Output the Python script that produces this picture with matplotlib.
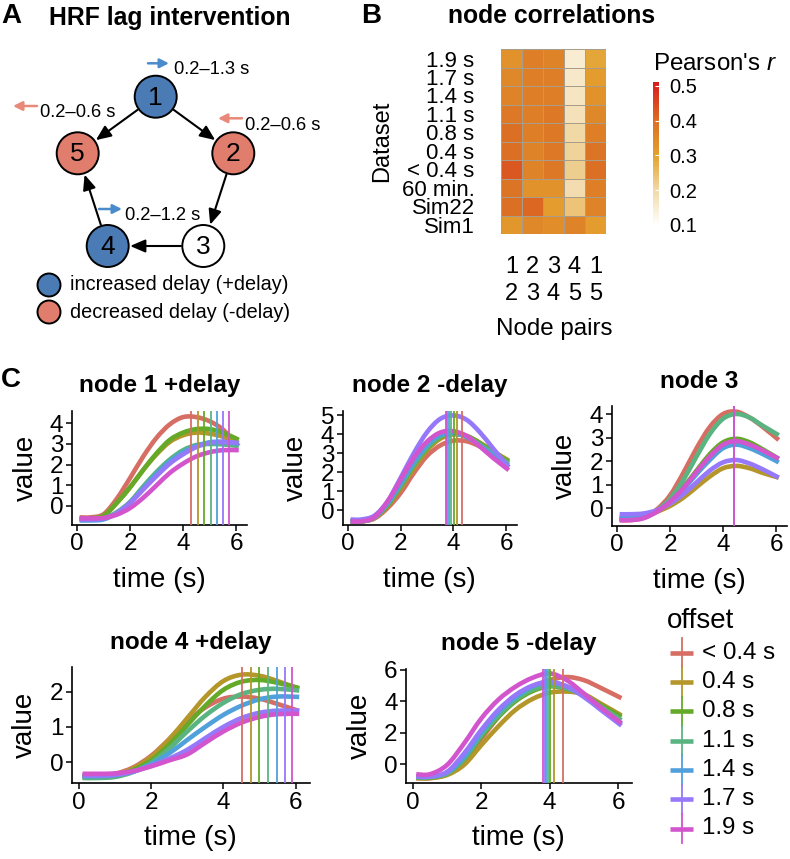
import numpy as np
import matplotlib
matplotlib.use("Agg")
import matplotlib.pyplot as plt
from matplotlib.patches import Circle, FancyArrowPatch, PathPatch
from matplotlib.path import Path
from matplotlib.colors import LinearSegmentedColormap, Normalize
from matplotlib.cm import ScalarMappable

plt.rcParams['font.family'] = ['Liberation Sans', 'DejaVu Sans']
plt.rcParams['mathtext.fontset'] = 'custom'
plt.rcParams['mathtext.rm'] = 'Liberation Sans'
plt.rcParams['mathtext.it'] = 'Liberation Sans:italic'

# ---------------- data ----------------
offset_labels = ["< 0.4 s", "0.4 s", "0.8 s", "1.1 s", "1.4 s", "1.7 s", "1.9 s"]
offset_colors = ["#D66E64", "#B4962A", "#64AA28", "#5AB482", "#50A0DC", "#9678FA", "#D255CD"]

time_s = [0.1, 0.5, 1.0, 1.5, 2.0, 2.5, 3.0, 3.5, 4.0, 4.5, 5.0, 5.5, 6.1]

node1_curves = [
    [-0.55, -0.55, -0.40, 0.35, 1.35, 2.40, 3.30, 3.95, 4.30, 4.30, 4.10, 3.70, 2.90],
    [-0.60, -0.60, -0.48, 0.15, 0.90, 1.75, 2.50, 3.10, 3.42, 3.55, 3.50, 3.35, 3.05],
    [-0.60, -0.60, -0.48, 0.15, 0.90, 1.75, 2.55, 3.20, 3.55, 3.72, 3.72, 3.55, 3.20],
    [-0.65, -0.65, -0.60, -0.30, 0.20, 0.95, 1.65, 2.25, 2.70, 2.95, 3.00, 2.98, 2.90],
    [-0.70, -0.70, -0.65, -0.35, 0.15, 0.85, 1.55, 2.15, 2.60, 2.90, 3.08, 3.10, 3.00],
    [-0.65, -0.65, -0.60, -0.35, 0.15, 0.80, 1.45, 2.05, 2.50, 2.85, 3.05, 3.10, 3.05],
    [-0.60, -0.60, -0.58, -0.42, -0.10, 0.40, 1.00, 1.60, 2.05, 2.40, 2.60, 2.70, 2.70],
]
node1_peaks = [4.29, 4.56, 4.79, 5.04, 5.29, 5.52, 5.72]

node2_curves = [
    [-0.60, -0.60, -0.45, 0.10, 0.90, 1.95, 2.85, 3.40, 3.65, 3.62, 3.35, 2.95, 2.50],
    [-0.60, -0.60, -0.42, 0.20, 1.15, 2.20, 3.15, 3.75, 3.98, 3.90, 3.55, 3.10, 2.60],
    [-0.60, -0.60, -0.40, 0.25, 1.25, 2.35, 3.25, 3.85, 4.02, 3.90, 3.52, 3.05, 2.55],
    [-0.60, -0.60, -0.40, 0.30, 1.30, 2.40, 3.30, 3.88, 4.02, 3.85, 3.45, 2.98, 2.45],
    [-0.55, -0.55, -0.38, 0.35, 1.40, 2.50, 3.40, 3.95, 4.05, 3.85, 3.40, 2.90, 2.35],
    [-0.50, -0.50, -0.30, 0.45, 1.70, 3.00, 4.10, 4.80, 4.98, 4.75, 4.10, 3.25, 2.25],
    [-0.60, -0.60, -0.38, 0.45, 1.60, 2.75, 3.60, 4.08, 4.15, 3.90, 3.35, 2.75, 2.10],
]
node2_peaks = [4.31, 4.14, 4.02, 3.92, 3.83, 3.76, 3.71]

node3_curves = [
    [-0.50, -0.50, -0.40, -0.05, 0.55, 1.50, 2.55, 3.45, 4.00, 4.10, 3.85, 3.45, 2.90],
    [-0.40, -0.40, -0.34, -0.15, 0.10, 0.45, 0.90, 1.35, 1.70, 1.80, 1.70, 1.50, 1.30],
    [-0.45, -0.45, -0.38, -0.12, 0.30, 0.90, 1.60, 2.30, 2.80, 2.95, 2.80, 2.50, 2.10],
    [-0.45, -0.45, -0.38, -0.10, 0.40, 1.20, 2.20, 3.15, 3.80, 4.00, 3.85, 3.50, 3.10],
    [-0.40, -0.40, -0.34, -0.10, 0.25, 0.80, 1.45, 2.05, 2.55, 2.70, 2.55, 2.30, 1.95],
    [-0.25, -0.25, -0.22, -0.08, 0.20, 0.60, 1.10, 1.60, 1.95, 2.05, 1.90, 1.65, 1.30],
    [-0.50, -0.50, -0.42, -0.15, 0.28, 0.85, 1.55, 2.20, 2.70, 2.85, 2.70, 2.45, 2.10],
]
node3_peaks = [4.40, 4.42, 4.42, 4.42, 4.42, 4.42, 4.42]

node4_curves = [
    [-0.38, -0.38, -0.33, -0.15, 0.18, 0.65, 1.15, 1.55, 1.80, 1.86, 1.80, 1.65, 1.45],
    [-0.40, -0.40, -0.35, -0.18, 0.15, 0.65, 1.25, 1.85, 2.30, 2.48, 2.45, 2.30, 2.08],
    [-0.42, -0.42, -0.38, -0.22, 0.05, 0.50, 1.05, 1.60, 2.05, 2.28, 2.33, 2.25, 2.10],
    [-0.45, -0.45, -0.42, -0.28, -0.02, 0.38, 0.87, 1.32, 1.68, 1.93, 2.05, 2.08, 2.03],
    [-0.40, -0.40, -0.37, -0.27, -0.05, 0.25, 0.63, 1.00, 1.34, 1.60, 1.78, 1.86, 1.85],
    [-0.38, -0.38, -0.36, -0.27, -0.10, 0.10, 0.35, 0.68, 1.00, 1.25, 1.40, 1.46, 1.46],
    [-0.33, -0.33, -0.32, -0.25, -0.12, 0.05, 0.22, 0.55, 0.87, 1.12, 1.28, 1.36, 1.37],
]
node4_peaks = [4.53, 4.76, 4.99, 5.24, 5.49, 5.71, 5.91]

node5_curves = [
    [-0.90, -0.90, -0.65, 0.20, 1.60, 3.00, 4.10, 4.90, 5.35, 5.55, 5.35, 4.85, 4.20],
    [-0.90, -0.90, -0.70, -0.05, 1.20, 2.40, 3.45, 4.15, 4.55, 4.62, 4.45, 3.85, 3.10],
    [-0.85, -0.85, -0.60, 0.30, 1.75, 3.00, 4.00, 4.65, 4.95, 4.80, 4.40, 3.75, 3.00],
    [-0.85, -0.85, -0.60, 0.35, 1.85, 3.10, 4.10, 4.75, 5.00, 4.82, 4.35, 3.65, 2.80],
    [-0.80, -0.80, -0.55, 0.45, 2.00, 3.30, 4.26, 4.95, 5.20, 4.95, 4.35, 3.55, 2.55],
    [-0.80, -0.80, -0.50, 0.68, 2.17, 3.45, 4.40, 5.00, 5.25, 4.95, 4.28, 3.45, 2.45],
    [-0.65, -0.65, -0.06, 1.32, 2.90, 4.10, 4.93, 5.50, 5.78, 5.35, 4.50, 3.60, 2.60],
]
node5_peaks = [4.38, 4.12, 4.02, 3.95, 3.90, 3.86, 3.82]

dataset_labels = ["1.9 s", "1.7 s", "1.4 s", "1.1 s", "0.8 s", "0.4 s", "< 0.4 s",
                  "60 min.", "Sim22", "Sim1"]
pair_labels = ["1\n2", "2\n3", "3\n4", "4\n5", "1\n5"]
corr_values = [
    [0.33, 0.37, 0.36, 0.15, 0.29],
    [0.35, 0.37, 0.37, 0.16, 0.31],
    [0.36, 0.37, 0.37, 0.17, 0.33],
    [0.38, 0.37, 0.38, 0.18, 0.35],
    [0.40, 0.37, 0.38, 0.20, 0.37],
    [0.40, 0.36, 0.38, 0.21, 0.39],
    [0.43, 0.36, 0.38, 0.22, 0.40],
    [0.39, 0.33, 0.33, 0.19, 0.37],
    [0.40, 0.41, 0.31, 0.24, 0.36],
    [0.32, 0.35, 0.34, 0.36, 0.31],
]
cbar_ticks = [0.1, 0.2, 0.3, 0.4, 0.5]

# ---------------- figure ----------------
W, H = 790, 859
fig = plt.figure(figsize=(W / 100, H / 100), dpi=100)

ov = fig.add_axes([0, 0, 1, 1])
ov.set_xlim(0, W)
ov.set_ylim(H, 0)
ov.axis('off')
ov.patch.set_alpha(0)


def px_axes(l, t, r, b):
    ax = fig.add_axes([l / W, 1 - b / H, (r - l) / W, (b - t) / H])
    ax.patch.set_alpha(0)
    return ax


def smooth_line(ax, xs, ys, **kw):
    """Draw a smooth (Catmull-Rom style Bezier) line through the data points."""
    pts = np.column_stack([xs, ys]).astype(float)
    n = len(pts)
    verts = [pts[0]]
    codes = [Path.MOVETO]
    for i in range(n - 1):
        p0 = pts[max(i - 1, 0)]
        p1 = pts[i]
        p2 = pts[i + 1]
        p3 = pts[min(i + 2, n - 1)]
        c1 = p1 + (p2 - p0) / 6.0
        c2 = p2 - (p3 - p1) / 6.0
        verts += [c1, c2, p2]
        codes += [Path.CURVE4] * 3
    ax.add_patch(PathPatch(Path(verts, codes), fill=False, **kw))


# ---------------- Panel A ----------------
ov.text(11, 16, "A", fontsize=20, fontweight='bold', ha='center', va='center')
ov.text(170, 18, "HRF lag intervention", fontsize=17.8, fontweight='bold', ha='center', va='center')

blue_node = "#4B7BB5"
red_node = "#E07D6C"
blue_arrow = "#4A8CCB"
red_arrow = "#E8897A"
R = 21
nodes = {1: (155.7, 96.7, blue_node), 2: (233.3, 153.3, red_node), 3: (203.3, 246, "white"),
         4: (107.7, 246, blue_node), 5: (77.7, 153.3, red_node)}
for k, (x, y, c) in nodes.items():
    ov.add_patch(Circle((x, y), R, facecolor=c, edgecolor='black', lw=1.4, zorder=3))
    ov.text(x, y + 1, str(k), fontsize=19, ha='center', va='center', zorder=4)

edges = [(1, 5), (1, 2), (2, 3), (3, 4), (4, 5)]
for a, b in edges:
    xa, ya, _ = nodes[a]
    xb, yb, _ = nodes[b]
    ov.add_patch(FancyArrowPatch((xa, ya), (xb, yb), arrowstyle='-|>,head_length=0.7,head_width=0.3',
                                 mutation_scale=13, lw=1.5, color='black',
                                 shrinkA=R * 0.72 + 1, shrinkB=R * 0.72 + 1, zorder=2))

delay_marks = [((148, 63.3), (169, 63.3), blue_arrow, (174, 70), "0.2–1.3 s"),
               ((37, 106), (13, 106), red_arrow, (40, 112.5), "0.2–0.6 s"),
               ((242, 118.3), (218, 118.3), red_arrow, (245, 125.7), "0.2–0.6 s"),
               ((99, 209), (122, 209), blue_arrow, (125, 215), "0.2–1.2 s")]
for p0, p1, c, tp, txt in delay_marks:
    ov.add_patch(FancyArrowPatch(p0, p1, arrowstyle='-|>,head_length=0.6,head_width=0.3',
                                 mutation_scale=9, lw=1.8, color=c, shrinkA=0, shrinkB=0))
    ov.text(tp[0], tp[1], txt, fontsize=13.2, ha='left', va='center')

ov.add_patch(Circle((49, 285), 11.5, facecolor=blue_node, edgecolor='black', lw=1.4))
ov.add_patch(Circle((49, 312), 11.5, facecolor=red_node, edgecolor='black', lw=1.4))
ov.text(70, 285, "increased delay (+delay)", fontsize=14.3, ha='left', va='center')
ov.text(70, 312, "decreased delay (-delay)", fontsize=14.3, ha='left', va='center')

# ---------------- Panel B ----------------
ov.text(371, 16, "B", fontsize=20, fontweight='bold', ha='center', va='center')
ov.text(552, 16, "node correlations", fontsize=17.8, fontweight='bold', ha='center', va='center')

vmin, vmax = 0.1, 0.512
stops = [(0.1, "#FFFFFF"), (0.2, "#F1D9A6"), (0.3, "#E4A12E"), (0.4, "#DB6F24"), (0.512, "#D7191C")]
cmap = LinearSegmentedColormap.from_list("pr", [((v - vmin) / (vmax - vmin), c) for v, c in stops])
norm = Normalize(vmin, vmax)

hb = px_axes(501, 49.3, 606, 234)
hb.pcolormesh(np.arange(len(pair_labels) + 1), np.arange(len(dataset_labels) + 1),
              np.array(corr_values), cmap=cmap, norm=norm, edgecolors='#A99C88', linewidth=0.6)
hb.set_xlim(0, len(pair_labels))
hb.set_ylim(len(dataset_labels), 0)
hb.set_yticks(np.arange(len(dataset_labels)) + 0.5)
hb.set_yticklabels(dataset_labels, fontsize=16)
hb.set_xticks(np.arange(len(pair_labels)) + 0.5)
hb.set_xticklabels(pair_labels, fontsize=17)
for lbl in hb.get_xticklabels():
    lbl.set_linespacing(1.3)
hb.tick_params(axis='y', length=0, pad=19)
hb.tick_params(axis='x', length=0, pad=16)
for s in hb.spines.values():
    s.set_visible(False)
ov.text(382, 141, "Dataset", fontsize=17, rotation=90, ha='center', va='center')
ov.text(554, 329, "Node pairs", fontsize=17.4, ha='center', va='center')

cax = px_axes(653, 81.7, 658.5, 225)
cb = fig.colorbar(ScalarMappable(norm=norm, cmap=cmap), cax=cax, ticks=cbar_ticks)
cb.outline.set_visible(False)
cax.tick_params(length=3, width=0.8, color='white', direction='in', labelsize=14.5, pad=8)
cax.set_yticklabels([f"{t:.1f}" for t in cbar_ticks])
ov.text(653, 64, "Pearson's $r$", fontsize=17.4, ha='left', va='center')

# ---------------- Panel C ----------------
ov.text(11, 380, "C", fontsize=20, fontweight='bold', ha='center', va='center')

panels = [
    ("node 1 +delay", node1_curves, node1_peaks, (71.7, 410.7, 246.7, 525), (-0.92, 4.61), [0, 1, 2, 3, 4], 26),
    ("node 2 -delay", node2_curves, node2_peaks, (342.7, 410.7, 516.7, 525), (-0.79, 5.23), [0, 1, 2, 3, 4, 5], 295.5),
    ("node 3", node3_curves, node3_peaks, (611.7, 406, 786.7, 526), (-0.75, 4.34), [0, 1, 2, 3, 4], 565),
    ("node 4 +delay", node4_curves, node4_peaks, (71.7, 667.3, 310, 783.3), (-0.6, 2.69), [0, 1, 2], 25),
    ("node 5 -delay", node5_curves, node5_peaks, (406, 668.7, 631.7, 783.3), (-1.23, 6.08), [0, 2, 4, 6], 360),
]
for title, curves, peaks, (l, t, r, b), ylim, yt, ylab_x in panels:
    ax = px_axes(l, t, r, b)
    for vals, c in zip(curves, offset_colors):
        smooth_line(ax, time_s, vals, edgecolor=c, lw=3.3, capstyle='butt', joinstyle='round', zorder=2)
    for pk, c in zip(peaks, offset_colors):
        ax.axvline(pk, color=c, lw=1.3, zorder=3)
    ax.set_xlim(-0.2, 6.4)
    ax.set_ylim(*ylim)
    ax.set_xticks([0, 2, 4, 6])
    ax.set_yticks(yt)
    for s in ['top', 'right']:
        ax.spines[s].set_visible(False)
    for s in ['left', 'bottom']:
        ax.spines[s].set_linewidth(1.2)
    ax.tick_params(length=4, width=1.1, labelsize=17.5, pad=2)
    cx = (l + r) / 2
    yc = (t + b) / 2
    ov.text(cx, t - 25, title, fontsize=17.5, fontweight='bold', ha='center', va='center')
    ov.text(cx, b + 55, "time (s)", fontsize=20, ha='center', va='center')
    ov.text(ylab_x, yc, "value", fontsize=20, rotation=90, ha='center', va='center')

# offset legend
ov.text(667, 621, "offset", fontsize=20, ha='left', va='center')
key_y0, key_dy = 652.7, 29.3
for i, (lab, c) in enumerate(zip(offset_labels, offset_colors)):
    y = key_y0 + i * key_dy
    ov.plot([670, 693.3], [y, y], color=c, lw=3.3, solid_capstyle='butt')
    ov.plot([681.7, 681.7], [y - key_dy / 2, y + key_dy / 2], color=c, lw=1.3)
    ov.text(701.7, y, lab, fontsize=17.4, ha='left', va='center')

fig.savefig("out.png", dpi=100)
